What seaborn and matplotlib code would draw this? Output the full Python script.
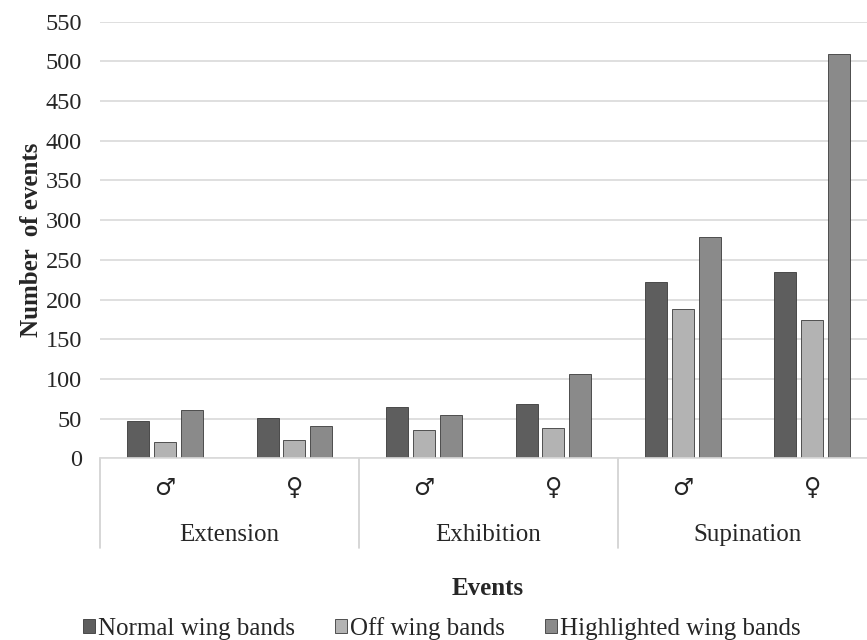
import numpy as np
import pandas as pd
import matplotlib
matplotlib.use("Agg")
import matplotlib.pyplot as plt
import seaborn as sns

events = ["Extension", "Exhibition", "Supination"]
sexes = ["♂", "♀"]
series = ["Normal wing bands", "Off wing bands", "Highlighted wing bands"]
normal = [47, 51, 65, 68, 222, 235]
off = [21, 23, 35, 38, 188, 174]
highlighted = [61, 41, 55, 106, 279, 510]
colors = ["#5e5e5e", "#b3b3b3", "#8a8a8a"]

slots = [e + " " + s for e in events for s in sexes]
rows = []
for name, vals in zip(series, [normal, off, highlighted]):
    for slot, v in zip(slots, vals):
        rows.append({"slot": slot, "series": name, "value": v})
df = pd.DataFrame(rows)

sns.set_style("white")
plt.rcParams['font.family'] = ['Liberation Serif', 'DejaVu Serif']

fig = plt.figure(figsize=(8.67, 6.4), dpi=100)
ax = fig.add_axes([0.1155, 0.284, 0.896, 0.682])

sns.barplot(data=df, x="slot", y="value", hue="series", order=slots,
            hue_order=series, palette=colors, width=0.62, ax=ax,
            edgecolor="#3a3a3a", linewidth=0.6, legend=True)

# narrow the bars a bit, keep centres
for p in ax.patches:
    w = p.get_width()
    if w > 0:
        c = p.get_x() + w / 2
        p.set_width(0.17)
        p.set_x(c - 0.085)

ax.set_ylim(0, 550)
ax.set_yticks(np.arange(0, 551, 50))
ax.yaxis.grid(True, color="#d9d9d9", linewidth=1.2)
ax.set_axisbelow(True)
ax.set_xlim(-0.5, len(slots) - 0.5)
for s in ["left", "right", "top"]:
    ax.spines[s].set_visible(False)
ax.spines["bottom"].set_color("#d9d9d9")
ax.spines["bottom"].set_linewidth(1.2)
ax.tick_params(axis="y", length=0, labelsize=17.5, pad=13)
ax.set_xticks([])
ax.set_xlabel("")
ax.set_ylabel("Number  of events", fontsize=18, fontweight="bold", labelpad=2)

# two-level category axis
trans = ax.get_xaxis_transform()
for i, slot in enumerate(slots):
    ax.text(i, -0.069, sexes[i % 2], transform=trans, ha="center", va="center",
            fontsize=17, family=["DejaVu Sans"])
for j, e in enumerate(events):
    ax.text(2 * j + 0.5, -0.175, e, transform=trans, ha="center", va="center",
            fontsize=18)
for k in range(len(events) + 1):
    ax.plot([2 * k - 0.5, 2 * k - 0.5], [0, -0.206], transform=trans,
            color="#d0d0d0", linewidth=1.2, clip_on=False)

fig.text(0.562, 0.081, "Events", ha="center", va="center", fontsize=18,
         fontweight="bold")

handles, labels = ax.get_legend_handles_labels()
ax.legend_.remove()
fig.legend(handles, labels, loc="center", bbox_to_anchor=(0.51, 0.018),
           ncol=3, frameon=False, fontsize=18, handlelength=0.45,
           handleheight=0.45, handletextpad=0.15, columnspacing=1.6)

fig.savefig("out.png", dpi=100)
